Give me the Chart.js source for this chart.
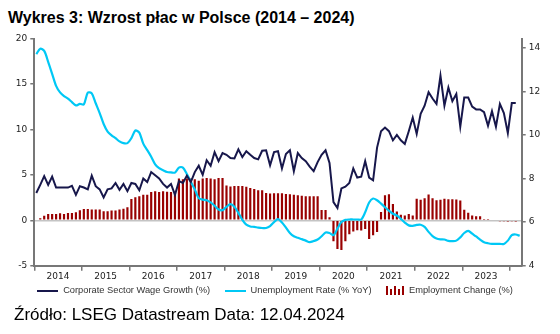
<!DOCTYPE html>
<html>
<head>
<meta charset="utf-8">
<script src="https://cdn.jsdelivr.net/npm/chart.js@4"></script>
<style>
  body { margin: 0; background: #fff; }
  #wrap { position: relative; width: 560px; height: 334px; }
  #title { position: absolute; left: 8px; top: 9px; font: bold 16px "Liberation Sans", Arial, sans-serif; color: #000; white-space: nowrap; }
  #source { position: absolute; left: 14px; top: 305px; font: 17px "Liberation Sans", Arial, sans-serif; color: #000; white-space: nowrap; }
  canvas { position: absolute; left: 0; top: 0; }
  #legend { position: absolute; left: 0; top: 285px; width: 550px; display: flex; justify-content: center; gap: 14.5px;
            font: 9.3px "Liberation Sans", Arial, sans-serif; color: #333; line-height: 11px; white-space: nowrap; }
  .item { display: flex; align-items: center; gap: 5px; }
  .line { display: inline-block; width: 21px; height: 2px; }
  .bars { display: inline-flex; align-items: flex-end; gap: 2px; height: 9px; }
  .bars i { display: block; width: 2px; background: #990000; }
</style>
</head>
<body>
<div id="wrap">
  <div id="title">Wykres 3: Wzrost płac w Polsce (2014 – 2024)</div>
  <canvas id="chart" width="560" height="334"></canvas>
  <div id="legend"></div>
  <div id="source">Źródło: LSEG Datastream Data: 12.04.2024</div>
</div>
<script>
// monthly, Jan 2014 onwards
const years = ['2014', '2015', '2016', '2017', '2018', '2019', '2020', '2021', '2022', '2023'];
const leftTicks = [-5, 0, 5, 10, 15, 20];
const rightTicks = [4, 6, 8, 10, 12, 14];

const wageGrowth = [
  3.0, 3.9, 4.85, 3.9, 4.8, 3.6, 3.6, 3.6, 3.6, 3.8, 2.8, 3.75,
  3.6, 3.4, 4.9, 3.75, 3.4, 2.5, 3.4, 3.5, 4.1, 3.35, 4.0, 3.2,
  4.1, 4.0, 3.3, 4.6, 4.2, 5.3, 4.95, 4.6, 4.0, 3.6, 4.0, 2.8,
  4.3, 4.1, 4.9, 4.2, 5.3, 6.0, 5.0, 6.6, 6.0, 7.5, 6.5, 7.4,
  7.2, 6.85, 6.8, 7.8, 6.95, 7.6, 7.2, 6.85, 6.7, 7.65, 7.7, 6.05,
  7.5, 7.6, 5.7, 7.3, 7.7, 5.4, 7.4, 6.85, 6.5, 5.9, 5.4, 6.4,
  7.2, 7.7, 6.3, 2.0, 1.35, 3.5, 3.7, 4.1, 5.7, 4.7, 4.8, 6.5,
  4.7, 4.4, 8.0, 9.8, 10.2, 9.8, 8.8, 9.4, 8.8, 8.4, 9.8, 11.3,
  9.5, 11.7, 12.6, 14.1, 13.4, 12.8, 15.9, 12.6, 14.6, 13.1, 13.9, 10.3,
  13.5, 13.5, 12.5, 12.2, 12.2, 11.9, 10.4, 12.0, 10.3, 12.8, 11.8, 9.6,
  12.9, 12.9
];

const unemployment = [
  13.7, 13.95, 13.85, 13.35, 12.8, 12.25, 11.95, 11.78, 11.66, 11.5, 11.35, 11.42,
  11.4, 11.94, 11.9, 11.45, 11.0, 10.5, 10.15, 9.98, 9.85, 9.7, 9.62, 9.62,
  9.85, 10.2, 10.1, 9.6, 9.3, 9.0, 8.65, 8.47, 8.38, 8.3, 8.28, 8.27,
  8.5, 8.5, 8.2, 7.85, 7.5, 7.1, 7.03, 7.0, 6.9, 6.75, 6.58, 6.55,
  6.7, 6.82, 6.7, 6.42, 6.1, 5.88, 5.8, 5.78, 5.75, 5.73, 5.73, 5.82,
  6.0, 6.14, 5.98, 5.75, 5.5, 5.35, 5.28, 5.22, 5.15, 5.08, 5.13, 5.2,
  5.35, 5.52, 5.5, 5.4, 5.7, 6.0, 6.1, 6.12, 6.12, 6.12, 6.12, 6.45,
  6.9, 7.08, 7.0, 6.85, 6.68, 6.52, 6.38, 6.3, 6.15, 5.98, 5.85, 5.83,
  5.87, 5.88, 5.78, 5.55, 5.36, 5.25, 5.21, 5.2, 5.14, 5.13, 5.15, 5.3,
  5.5, 5.6, 5.47, 5.34, 5.2, 5.08, 5.03, 5.0, 5.0, 5.0, 5.0, 5.15,
  5.4, 5.43, 5.37
];

const employmentChange = [
  null, 0.22, 0.5, 0.68, 0.68, 0.68, 0.77, 0.7, 0.8, 0.8, 0.88, 1.1,
  1.25, 1.25, 1.18, 1.18, 1.18, 0.98, 0.98, 1.07, 1.07, 1.18, 1.27, 1.43,
  2.35, 2.52, 2.65, 2.82, 2.82, 3.1, 3.2, 3.1, 3.2, 3.15, 3.1, 3.1,
  4.6, 4.5, 4.6, 4.6, 4.5, 4.35, 4.6, 4.66, 4.6, 4.5, 4.66, 4.66,
  3.82, 3.72, 3.78, 3.78, 3.78, 3.7, 3.55, 3.43, 3.3, 3.3, 3.0, 2.95,
  2.98, 2.98, 2.98, 2.9, 2.85, 2.8, 2.75, 2.7, 2.65, 2.65, 2.65, 2.65,
  1.14, 1.14, 0.33, -2.3, -3.17, -3.26, -2.3, -1.55, -1.23, -1.1, -1.14, -0.96,
  -2.06, -1.66, -1.3, 0.9, 2.75, 2.85, 1.8, 0.96, 0.6, 0.52, 0.7, 0.52,
  2.36, 2.25, 2.43, 2.84, 2.43, 2.2, 2.25, 2.36, 2.3, 2.3, 2.28, 2.17,
  1.16, 0.83, 0.52, 0.44, 0.44, 0.15, 0.04, 0, 0, -0.12, -0.12, -0.13,
  -0.12, -0.13
];

const NAVY = '#17174b';
const CYAN = '#00c8f5';
const RED = '#990000';
const AXIS = '#777';
const tickFont = { family: 'DejaVu Sans', size: 9 };

// point sits in the middle of its month
const toPoints = (arr) => arr.map((v, i) => ({ x: i + 0.5, y: v }));

const chart = new Chart(document.getElementById('chart'), {
  type: 'line',
  data: {
    datasets: [
      {
        label: 'Corporate Sector Wage Growth (%)',
        data: toPoints(wageGrowth),
        borderColor: NAVY,
        borderWidth: 2,
        pointRadius: 0,
        yAxisID: 'y',
        order: 1
      },
      {
        label: 'Unemployment Rate (% YoY)',
        data: toPoints(unemployment),
        borderColor: CYAN,
        borderWidth: 2.2,
        pointRadius: 0,
        tension: 0.3,
        yAxisID: 'y1',
        order: 2
      },
      {
        type: 'bar',
        label: 'Employment Change (%)',
        data: toPoints(employmentChange),
        backgroundColor: RED,
        barPercentage: 0.55,
        categoryPercentage: 1,
        yAxisID: 'y',
        order: 3
      }
    ]
  },
  options: {
    responsive: false,
    animation: false,
    layout: { padding: { left: 0, right: 0, top: 38.5, bottom: 50.3 } },
    plugins: {
      tooltip: { enabled: false },
      legend: { display: false }
    },
    scales: {
      x: {
        type: 'linear',
        offset: false,
        min: 0,
        max: 123,
        afterBuildTicks: (s) => { s.ticks = years.map((y, k) => ({ value: 6 + 12 * k })); },
        afterFit: (s) => { s.height = 18; },
        ticks: {
          callback: (v, idx) => years[idx],
          font: tickFont,
          color: '#222',
          padding: 1,
          maxRotation: 0,
          autoSkip: false
        },
        grid: { offset: true, drawOnChartArea: false, tickLength: 5, color: AXIS, lineWidth: 1.5 },
        border: { color: AXIS, width: 2 }
      },
      y: {
        position: 'left',
        min: -5,
        max: 20,
        afterBuildTicks: (s) => { s.ticks = leftTicks.map(v => ({ value: v })); },
        afterFit: (s) => { s.width = 34.3; },
        ticks: { font: tickFont, color: '#222', padding: 3 },
        grid: {
          color: (c) => (c.tick && c.tick.value === 0 ? '#c4c4c4' : 'rgba(0,0,0,0)'),
          lineWidth: 1.5,
          tickColor: AXIS,
          tickLength: 4
        },
        border: { color: AXIS, width: 2 }
      },
      y1: {
        position: 'right',
        min: 4,
        max: 14.42,
        afterBuildTicks: (s) => { s.ticks = rightTicks.map(v => ({ value: v })); },
        afterFit: (s) => { s.width = 38.3; },
        ticks: { font: tickFont, color: '#222', padding: 3 },
        grid: { drawOnChartArea: false, color: AXIS, tickLength: 4, lineWidth: 1.5 },
        border: { color: AXIS, width: 2 }
      }
    }
  }
});

// legend under the axis, built from the chart's own datasets
const legendEl = document.getElementById('legend');
chart.data.datasets.forEach((ds) => {
  const item = document.createElement('span');
  item.className = 'item';
  let icon;
  if (ds.type === 'bar') {
    icon = document.createElement('span');
    icon.className = 'bars';
    [9, 6, 9, 6, 9].forEach((h) => {
      const b = document.createElement('i');
      b.style.height = h + 'px';
      icon.appendChild(b);
    });
  } else {
    icon = document.createElement('span');
    icon.className = 'line';
    icon.style.background = ds.borderColor;
  }
  const text = document.createElement('span');
  text.textContent = ds.label;
  item.appendChild(icon);
  item.appendChild(text);
  legendEl.appendChild(item);
});
</script>
</body>
</html>
